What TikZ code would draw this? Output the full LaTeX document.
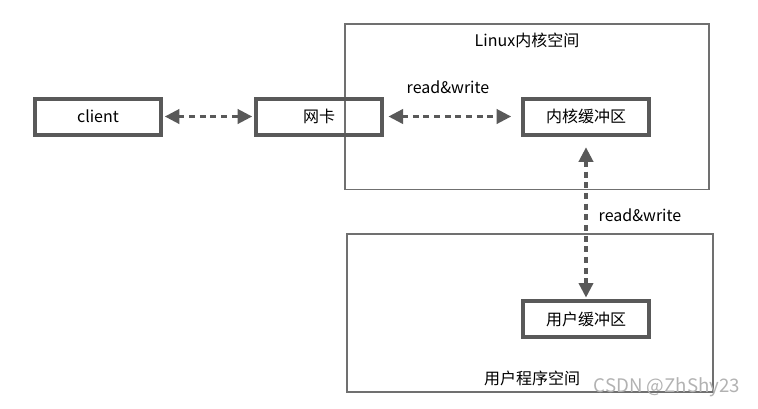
\documentclass[tikz,border=0pt]{standalone}
\usepackage{fontspec}
\setmainfont{Noto Sans CJK SC}
\usetikzlibrary{arrows.meta,positioning}
\definecolor{boxgray}{HTML}{595959}
\definecolor{framegray}{HTML}{707070}

\begin{document}
\begin{tikzpicture}[x=0.75pt,y=-0.75pt]
\tikzstyle{every node}+=[font=\fontsize{12}{14}\selectfont]
\tikzstyle{buf}=[draw=boxgray,line width=3pt,minimum width=95pt,minimum height=27pt,inner sep=0pt]
\tikzstyle{space}=[draw=framegray,line width=1pt,inner sep=0pt]
\tikzstyle{link}=[boxgray,line width=2.8pt,dash pattern=on 4.5pt off 3.5pt,{Triangle[length=11pt,width=10.5pt]}-{Triangle[length=11pt,width=10.5pt]}]
\useasboundingbox (0,0) rectangle (758,408);
% the two address spaces
\node [space,minimum width=273pt,minimum height=124pt] (kspace) at (527,106.5) {};
\node [space,minimum width=274.5pt,minimum height=118.5pt] (uspace) at (530,313) {};
\node (klabel) at (527,40) {Linux内核空间};
\node (ulabel) at (532,378) {用户程序空间};
% buffers and devices
\node [buf] (client) at (98,116.5) {client};
\node [buf] (nic) at (319,116.5) {网卡};
\node [buf] (kbuf) at (586,116.5) {内核缓冲区};
\node [buf] (ubuf) at (586,319) {用户缓冲区};
% data paths
\draw [link,shorten <=1pt,shorten >=1pt] (client) -- (nic);
\draw [link,shorten <=3pt,shorten >=7pt] (nic) -- (kbuf);
\node (rw1) at (448,87) {read\&write};
\draw [link,shorten <=8pt,shorten >=1pt] (kbuf) -- (ubuf);
\node (rw2) at (640,215) {read\&write};
\node [text=black!30,font=\fontsize{14}{16}\selectfont] (mark) at (667,387) {CSDN @ZhShy23};
\end{tikzpicture}
\end{document}
